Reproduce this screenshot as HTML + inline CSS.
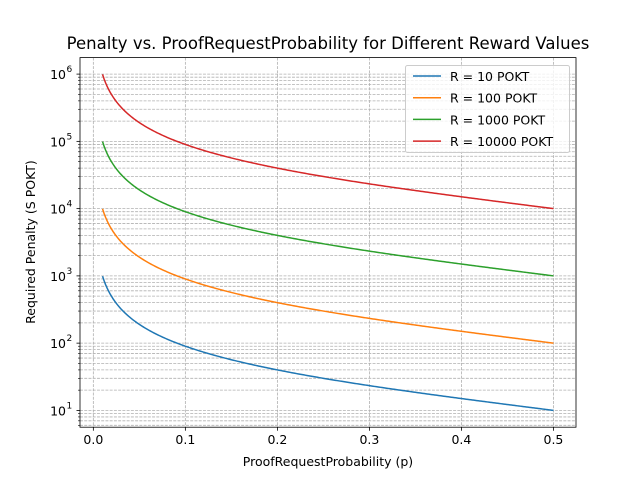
<!DOCTYPE html>
<html><head><meta charset="utf-8"><style>
body{margin:0;background:#fff}
svg{display:block;font-family:"DejaVu Sans","Liberation Sans",sans-serif}
</style></head><body>
<svg id="s" width="640" height="480" xmlns="http://www.w3.org/2000/svg"></svg>
<script>
const s=document.getElementById('s');
const L=80,R=576,T=57.6,B=427.2;
const X=p=>L+(p+0.0145)/0.539*(R-L);
const lo=Math.log10(10),hi=Math.log10(990000),mg=(hi-lo)*0.05;
const Y=v=>B-(Math.log10(v)-(lo-mg))/((hi-lo)+2*mg)*(B-T);
let h='<rect width="640" height="480" fill="#fff"/>';
for(let e=0;e<7;e++)for(let m=1;m<10;m++){const v=m*Math.pow(10,e);const y=Y(v);if(y<T||y>B)continue;
h+=`<line x1="${L}" x2="${R}" y1="${y}" y2="${y}" stroke="#b0b0b0" stroke-width="0.8" stroke-dasharray="2.96,1.28"/>`;}
for(let i=0;i<=5;i++){const x=X(i/10);h+=`<line x1="${x}" x2="${x}" y1="${T}" y2="${B}" stroke="#b0b0b0" stroke-width="0.8" stroke-dasharray="2.96,1.28"/>`;
h+=`<line x1="${x}" x2="${x}" y1="${B}" y2="${B+3.5}" stroke="#000" stroke-width="0.8"/>`;
h+=`<text x="${x}" y="${B+17}" font-size="12.5" text-anchor="middle">${(i/10).toFixed(1)}</text>`;}
for(let e=1;e<=6;e++){const y=Y(Math.pow(10,e));
h+=`<line x1="${L-3.5}" x2="${L}" y1="${y}" y2="${y}" stroke="#000" stroke-width="0.8"/>`;
h+=`<text x="${L-14}" y="${y+5}" font-size="12.5" text-anchor="end">10</text><text x="${L-13.5}" y="${y-2}" font-size="9">${e}</text>`;}
for(let e=0;e<7;e++)for(let m=2;m<10;m++){const y=Y(m*Math.pow(10,e));if(y<T||y>B)continue;
h+=`<line x1="${L-2}" x2="${L}" y1="${y}" y2="${y}" stroke="#000" stroke-width="0.6"/>`;}
const cols=['#1f77b4','#ff7f0e','#2ca02c','#d62728'],Rs=[10,100,1000,10000];
Rs.forEach((r,k)=>{let d='';for(let i=0;i<=300;i++){const p=0.01+0.49*i/300;d+=(i?'L':'M')+X(p).toFixed(2)+','+Y(r*(1-p)/p).toFixed(2);}
h+=`<path d="${d}" fill="none" stroke="${cols[k]}" stroke-width="1.5"/>`;});
h+=`<rect x="${L}" y="${T}" width="${R-L}" height="${B-T}" fill="none" stroke="#000" stroke-width="0.8"/>`;
h+=`<rect x="405.5" y="65.5" width="164" height="87" rx="2" fill="#fff" fill-opacity="0.8" stroke="#ccc" stroke-width="1"/>`;
const labs=['R = 10 POKT','R = 100 POKT','R = 1000 POKT','R = 10000 POKT'];
labs.forEach((t,k)=>{const y=76+k*21.7;h+=`<line x1="413" x2="441" y1="${y}" y2="${y}" stroke="${cols[k]}" stroke-width="1.5"/>`;
h+=`<text x="450" y="${y+5}" font-size="12.5">${t}</text>`;});
h+=`<text x="328" y="49" font-size="16.5" text-anchor="middle">Penalty vs. ProofRequestProbability for Different Reward Values</text>`;
h+=`<text x="328" y="466" font-size="12.5" text-anchor="middle">ProofRequestProbability (p)</text>`;
h+=`<text x="35" y="242" font-size="12.5" text-anchor="middle" transform="rotate(-90 35 242)">Required Penalty (S POKT)</text>`;
s.innerHTML=h;
</script>
</body></html>
